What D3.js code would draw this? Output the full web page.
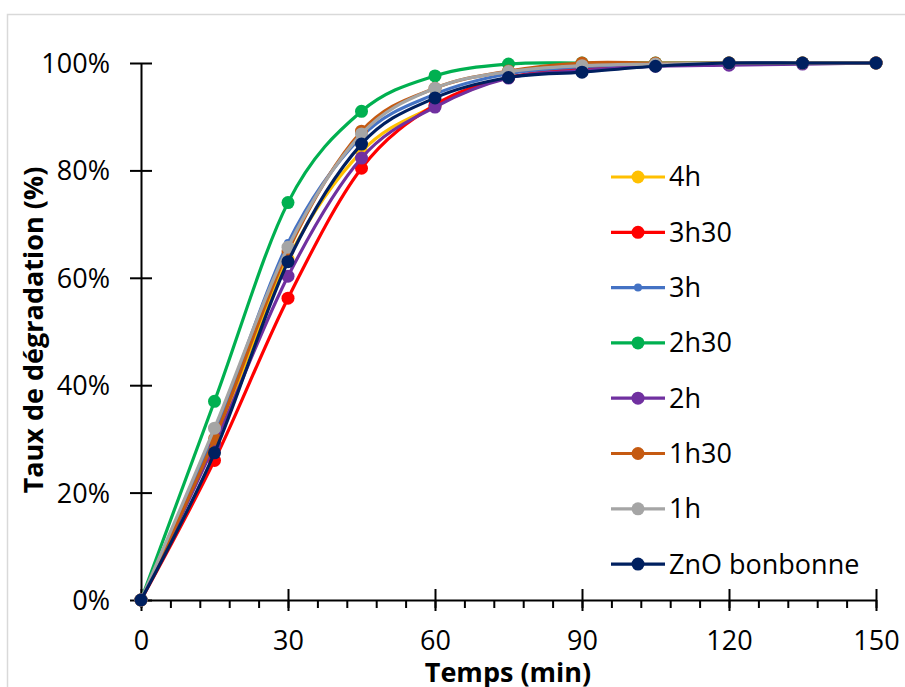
<!DOCTYPE html>
<html><head><meta charset="utf-8">
<script src="https://cdn.jsdelivr.net/npm/d3@7"></script>
<style>body{margin:0;background:#fff}svg{display:block}</style>
</head><body>
<svg id="chart" width="905" height="687"></svg>
<script>
const times = [0,15,30,45,60,75,90,105,120,135,150];
const seriesNames = ["4h","3h30","3h","2h30","2h","1h30","1h","ZnO bonbonne"];
const seriesColors = ["#FFC000","#FF0000","#4472C4","#00B050","#7030A0","#C55A11","#A5A5A5","#002060"];
const s4h   = [0, 29.5, 63.5, 83.5, 92.0, 97.3, 98.5, 99.5, 100, 100, 100];
const s3h30 = [0, 26.0, 56.2, 80.4, 92.2, 97.3, 99.0, 99.7, 100, 100, 100];
const s3h   = [0, 31.0, 66.5, 86.3, 94.2, 98.0, 99.3, 99.8, 100, 100, 100];
const s2h30 = [0, 37.0, 74.0, 91.0, 97.6, 99.8, 100, 100, 100, 100, 100];
const s2h   = [0, 29.0, 60.3, 82.3, 91.8, 97.2, 98.6, 99.4, 99.6, 99.8, 100];
const s1h30 = [0, 30.0, 65.0, 87.3, 95.3, 98.5, 100, 100, 100, 100, 100];
const s1h   = [0, 32.0, 65.7, 86.8, 95.3, 98.4, 99.5, 99.8, 100, 100, 100];
const sZnO  = [0, 27.4, 63.0, 84.9, 93.5, 97.3, 98.3, 99.4, 100, 100, 100];
const seriesValues = [s4h, s3h30, s3h, s2h30, s2h, s1h30, s1h, sZnO];
const xTicks = [0,30,60,90,120,150];
const xMinorTicks = d3.range(0,151,6);
const yTicks = [0,20,40,60,80,100];
const xTitle = "Temps (min)";
const yTitle = "Taux de dégradation (%)";

const svg = d3.select("#chart");
const font = "'Open Sans', sans-serif";
const L = 141, R = 876, T = 63, B = 600;
const x = d3.scaleLinear().domain([0,150]).range([L,R]);
const y = d3.scaleLinear().domain([0,100]).range([B,T]);

svg.append("rect").attr("x",7.5).attr("y",14.5).attr("width",920).attr("height",700)
  .attr("fill","#fff").attr("stroke","#d9d9d9").attr("stroke-width",1.5);

// minor x ticks
svg.append("g").attr("transform",`translate(0,${B})`)
  .call(d3.axisBottom(x).tickValues(xMinorTicks).tickSize(8).tickFormat(""))
  .call(g=>{g.select(".domain").remove(); g.selectAll("line").attr("stroke","#000").attr("stroke-width",2);});
// major x ticks (cross)
const xa = svg.append("g").attr("transform",`translate(0,${B})`)
  .call(d3.axisBottom(x).tickValues(xTicks).tickSize(11).tickSizeOuter(0).tickFormat(d3.format("d")));
xa.select(".domain").attr("stroke","#000").attr("stroke-width",2);
xa.selectAll(".tick line").attr("y1",-11).attr("stroke","#000").attr("stroke-width",2);
xa.selectAll(".tick text").attr("y",41).attr("dy","0.35em").attr("font-family",font).attr("font-size",27).attr("fill","#000");

const ya = svg.append("g").attr("transform",`translate(${L},0)`)
  .call(d3.axisLeft(y).tickValues(yTicks).tickSize(11).tickSizeOuter(0).tickFormat(d=>d+"%"));
ya.select(".domain").attr("stroke","#000").attr("stroke-width",2);
ya.selectAll(".tick line").attr("x1",11).attr("x2",-11).attr("stroke","#000").attr("stroke-width",2);
ya.selectAll(".tick text").attr("x",-31).attr("dy","0.35em").attr("font-family",font).attr("font-size",27).attr("fill","#000");

const line = d3.line().x((d,i)=>x(times[i])).y(d=>y(d)).curve(d3.curveCardinal.tension(0));
seriesValues.forEach((vals,k)=>{
  const g = svg.append("g");
  g.append("path").attr("d",line(vals)).attr("fill","none").attr("stroke",seriesColors[k]).attr("stroke-width",3.2);
  g.selectAll("circle").data(vals).join("circle")
    .attr("cx",(d,i)=>x(times[i])).attr("cy",d=>y(d)).attr("r",k===2?4:6.5).attr("fill",seriesColors[k]);
});

// legend
const lg = svg.append("g");
seriesNames.forEach((name,k)=>{
  const yy = 177 + k*55.3;
  lg.append("line").attr("x1",611).attr("x2",665).attr("y1",yy).attr("y2",yy).attr("stroke",seriesColors[k]).attr("stroke-width",3.2);
  lg.append("circle").attr("cx",638).attr("cy",yy).attr("r",k===2?4:6.5).attr("fill",seriesColors[k]);
  lg.append("text").attr("x",669).attr("y",yy).attr("dy","0.35em").attr("font-family",font).attr("font-size",27).attr("fill","#000").text(name);
});

svg.append("text").attr("x",508).attr("y",682).attr("text-anchor","middle")
  .attr("font-family",font).attr("font-weight","bold").attr("font-size",27).attr("fill","#000").text(xTitle);
svg.append("text").attr("transform",`translate(43,${330}) rotate(-90)`).attr("text-anchor","middle")
  .attr("font-family",font).attr("font-weight","bold").attr("font-size",27).attr("fill","#000").text(yTitle);
</script>
</body></html>
